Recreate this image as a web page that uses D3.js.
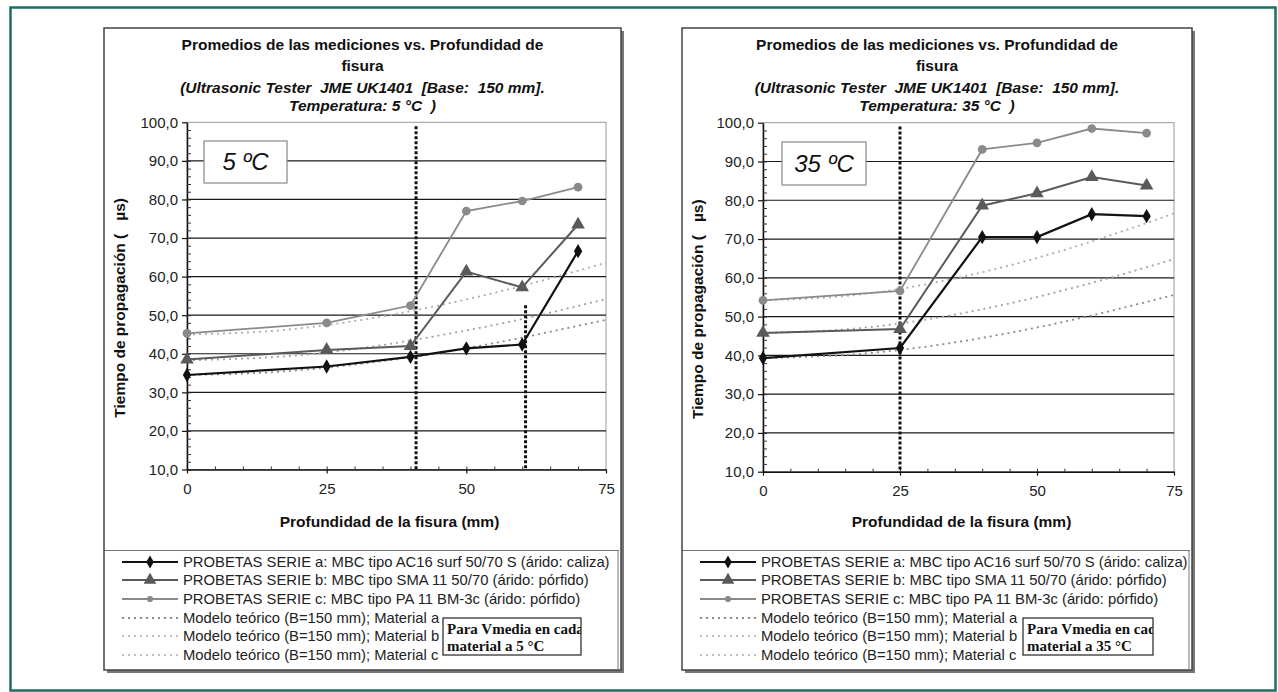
<!DOCTYPE html>
<html>
<head>
<meta charset="utf-8">
<script src="https://cdn.jsdelivr.net/npm/d3@7"></script>
<style>
  body { margin: 0; background: #fff; }
  svg { display: block; font-family: Arial, "Liberation Sans", sans-serif; }
</style>
</head>
<body>
<svg id="chart" width="1278" height="692"></svg>
<script>
// datos
const depth = [0, 25, 40, 50, 60, 70];              // profundidad de fisura (mm)
const serieA_5 = [34.5, 36.7, 39.2, 41.4, 42.4, 66.6];
const serieB_5 = [38.5, 41.0, 42.0, 61.3, 57.2, 73.5];
const serieC_5 = [45.3, 48.0, 52.5, 77.0, 79.6, 83.2];
const serieA_35 = [39.3, 41.9, 70.5, 70.5, 76.4, 75.9];
const serieB_35 = [45.8, 46.8, 78.6, 81.8, 86.0, 83.8];
const serieC_35 = [54.2, 56.6, 93.1, 94.8, 98.5, 97.3];

// modelo teorico (curvas punteadas)
const modelDepth = [0, 15, 30, 45, 60, 75];
const modelA_5 = [34.5, 35.2, 37.2, 40.2, 44.2, 48.8];
const modelB_5 = [38.3, 39.1, 41.2, 44.7, 49.0, 54.2];
const modelC_5 = [45.0, 45.9, 48.5, 52.5, 57.6, 63.6];
const modelA_35 = [39.3, 40.1, 42.3, 45.8, 50.3, 55.6];
const modelB_35 = [45.8, 46.7, 49.3, 53.4, 58.7, 64.8];
const modelC_35 = [54.2, 55.3, 58.4, 63.2, 69.4, 76.6];

// lineas verticales de limite [x, desde, hasta]
const limits_5 = [[41, 99, 10], [60.6, 52.6, 10]];
const limits_35 = [[25, 99, 10]];

const xTicks = [0, 25, 50, 75];
const yTicks = [10, 20, 30, 40, 50, 60, 70, 80, 90, 100];

const legendLabels = [
  "PROBETAS SERIE a: MBC tipo AC16 surf 50/70 S (árido: caliza)",
  "PROBETAS SERIE b: MBC tipo SMA 11 50/70 (árido: pórfido)",
  "PROBETAS SERIE c: MBC tipo PA 11 BM-3c (árido: pórfido)",
  "Modelo teórico (B=150 mm); Material a",
  "Modelo teórico (B=150 mm); Material b",
  "Modelo teórico (B=150 mm); Material c"
];

const svg = d3.select("#chart");

// marco exterior
svg.append("rect")
  .attr("x", 10.5).attr("y", 7.5)
  .attr("width", 1265).attr("height", 683)
  .attr("fill", "none")
  .attr("stroke", "#1b6e63")
  .attr("stroke-width", 2.5);

const fmt = d => d.toFixed(1).replace(".", ",");

function drawChart(cfg) {
  const g = svg.append("g");
  const b = cfg.box;

  // caja del grafico con sombra
  g.append("rect")
    .attr("x", b.x0 + 3).attr("y", b.y0 + 3)
    .attr("width", b.x1 - b.x0).attr("height", b.y1 - b.y0)
    .attr("fill", "#777");
  g.append("rect")
    .attr("x", b.x0).attr("y", b.y0)
    .attr("width", b.x1 - b.x0).attr("height", b.y1 - b.y0)
    .attr("fill", "white")
    .attr("stroke", "#444")
    .attr("stroke-width", 1.5);

  // titulo
  const cx = (b.x0 + b.x1) / 2;
  const title = [
    ["Promedios de las mediciones vs. Profundidad de", "normal", 50],
    ["fisura", "normal", 71],
    ["(Ultrasonic Tester  JME UK1401  [Base:  150 mm].", "italic", 93],
    ["Temperatura: " + cfg.temp + " °C  )", "italic", 111]
  ];
  g.selectAll(".title")
    .data(title)
    .enter()
    .append("text")
    .attr("x", cx)
    .attr("y", d => d[2])
    .attr("text-anchor", "middle")
    .style("font-size", "15.5px")
    .style("font-weight", "bold")
    .style("font-style", d => d[1])
    .style("white-space", "pre")
    .attr("fill", "#111")
    .text(d => d[0]);

  const p = cfg.plot;
  const x = d3.scaleLinear().domain([0, 75]).range([p.left, p.right]);
  const y = d3.scaleLinear().domain([10, 100]).range([p.bottom, p.top]);

  // borde del area de trazado
  g.append("rect")
    .attr("x", p.left).attr("y", p.top)
    .attr("width", p.right - p.left).attr("height", p.bottom - p.top)
    .attr("fill", "none")
    .attr("stroke", "#999")
    .attr("stroke-width", 1);

  // rejilla
  g.selectAll(".grid")
    .data(yTicks.filter(v => v > 10 && v < 100))
    .enter()
    .append("line")
    .attr("x1", p.left).attr("x2", p.right)
    .attr("y1", d => y(d)).attr("y2", d => y(d))
    .attr("stroke", "#1a1a1a")
    .attr("stroke-width", 1.2);

  // eje y
  const yAxis = g.append("g").attr("transform", `translate(${p.left},0)`);
  yAxis.call(d3.axisLeft(y).tickValues(yTicks).tickFormat(fmt).tickSize(5).tickSizeOuter(0));
  yAxis.select(".domain").attr("stroke", "#111").attr("stroke-width", 1.5);
  yAxis.selectAll(".tick line").attr("stroke", "#111").attr("stroke-width", 1.2);
  yAxis.selectAll(".tick text")
    .attr("x", -9)
    .style("font-size", "15px")
    .style("font-family", "Arial, 'Liberation Sans', sans-serif")
    .attr("fill", "#222");
  g.append("g")
    .attr("transform", `translate(${p.left},0)`)
    .call(d3.axisRight(y).tickValues(d3.range(10, 100, 2)).tickSize(4).tickFormat(""))
    .call(a => a.select(".domain").remove())
    .selectAll("line").attr("stroke", "#333");

  // eje x
  const xAxis = g.append("g").attr("transform", `translate(0,${p.bottom})`);
  xAxis.call(d3.axisBottom(x).tickValues(xTicks).tickSize(4).tickSizeOuter(0).tickPadding(10));
  xAxis.select(".domain").attr("stroke", "#111").attr("stroke-width", 1.5);
  xAxis.selectAll(".tick line").attr("stroke", "#111").attr("stroke-width", 1.2);
  xAxis.selectAll(".tick text")
    .style("font-size", "15px")
    .style("font-family", "Arial, 'Liberation Sans', sans-serif")
    .attr("fill", "#222");
  g.append("g")
    .attr("transform", `translate(0,${p.bottom})`)
    .call(d3.axisTop(x).tickValues(d3.range(5, 75, 5)).tickSize(3).tickFormat(""))
    .call(a => a.select(".domain").remove())
    .selectAll("line").attr("stroke", "#333");

  // titulos de ejes
  g.append("text")
    .attr("x", (p.left + p.right) / 2 - 7)
    .attr("y", 527)
    .attr("text-anchor", "middle")
    .style("font-size", "15.5px")
    .style("font-weight", "bold")
    .attr("fill", "#111")
    .text("Profundidad de la fisura (mm)");
  g.append("text")
    .attr("transform", `translate(${b.x0 + 21},${(p.top + p.bottom) / 2 + 12}) rotate(-90)`)
    .attr("text-anchor", "middle")
    .style("font-size", "15.5px")
    .style("font-weight", "bold")
    .style("white-space", "pre")
    .attr("fill", "#111")
    .text("Tiempo de propagación (   µs)");

  // recuadro de temperatura
  const tb = cfg.tempBox;
  g.append("rect")
    .attr("x", tb[0]).attr("y", tb[1])
    .attr("width", tb[2]).attr("height", tb[3])
    .attr("fill", "white")
    .attr("stroke", "#888")
    .attr("stroke-width", 1.2);
  g.append("text")
    .attr("x", tb[0] + tb[2] / 2)
    .attr("y", tb[1] + tb[3] / 2 + 8)
    .attr("text-anchor", "middle")
    .style("font-size", "24px")
    .style("font-style", "italic")
    .attr("fill", "#111")
    .text(cfg.temp + " ºC");

  // curvas del modelo
  const modelLine = d3.line()
    .x((d, i) => x(modelDepth[i]))
    .y(d => y(d))
    .curve(d3.curveNatural);
  const modelColors = ["#8a8a8a", "#a0a0a0", "#adadad"];
  g.selectAll(".model")
    .data(cfg.models)
    .enter()
    .append("path")
    .attr("d", d => modelLine(d))
    .attr("fill", "none")
    .attr("stroke", (d, i) => modelColors[i])
    .attr("stroke-width", 1.8)
    .attr("stroke-dasharray", "2,4");

  // lineas verticales punteadas
  g.selectAll(".limit")
    .data(cfg.limits)
    .enter()
    .append("line")
    .attr("x1", d => x(d[0])).attr("x2", d => x(d[0]))
    .attr("y1", d => y(d[1])).attr("y2", d => y(d[2]))
    .attr("stroke", "#111")
    .attr("stroke-width", 3)
    .attr("stroke-dasharray", "3,2");

  // series medidas
  const line = d3.line().x((d, i) => x(depth[i])).y(d => y(d));
  const styles = [
    { color: "#111", width: 2.2, symbol: d3.symbolDiamond, size: 60 },
    { color: "#5a5a5a", width: 2, symbol: d3.symbolTriangle, size: 80 },
    { color: "#8a8a8a", width: 1.8, symbol: d3.symbolCircle, size: 60 }
  ];
  cfg.series.slice().reverse().forEach((vals, ri) => {
    const s = styles[2 - ri];
    g.append("path")
      .attr("d", line(vals))
      .attr("fill", "none")
      .attr("stroke", s.color)
      .attr("stroke-width", s.width);
    g.selectAll(null)
      .data(vals)
      .enter()
      .append("path")
      .attr("d", d3.symbol().type(s.symbol).size(s.size))
      .attr("transform", (d, i) => `translate(${x(depth[i])},${y(d)})`)
      .attr("fill", s.color);
  });

  // leyenda
  const lg = g.append("g");
  const clipId = "clip" + cfg.temp;
  g.append("clipPath").attr("id", clipId)
    .append("rect")
    .attr("x", b.x0).attr("y", cfg.legendTop)
    .attr("width", b.x1 - b.x0 - 2).attr("height", b.y1 - cfg.legendTop);
  lg.attr("clip-path", `url(#${clipId})`);
  lg.append("line")
    .attr("x1", b.x0).attr("x2", b.x1)
    .attr("y1", cfg.legendTop).attr("y2", cfg.legendTop)
    .attr("stroke", "#444").attr("stroke-width", 1.5);
  lg.append("line")
    .attr("x1", b.x1 - 3).attr("x2", b.x1 - 3)
    .attr("y1", cfg.legendTop).attr("y2", b.y1)
    .attr("stroke", "#777").attr("stroke-width", 1);

  const rowY = [562, 580, 599, 618, 636, 655];
  const lx0 = b.x0 + 18, lx1 = b.x0 + 74;
  const legendStyles = [
    { color: "#111", width: 2.2, dash: null },
    { color: "#5a5a5a", width: 2, dash: null },
    { color: "#8a8a8a", width: 1.8, dash: null },
    { color: "#666", width: 1.4, dash: "2,4" },
    { color: "#aaa", width: 1.4, dash: "2,4" },
    { color: "#aaa", width: 1.4, dash: "2,4" }
  ];
  const rows = lg.selectAll(".row")
    .data(legendLabels)
    .enter()
    .append("g")
    .attr("transform", (d, i) => `translate(0,${rowY[i]})`);
  rows.append("line")
    .attr("x1", lx0).attr("x2", lx1)
    .attr("stroke", (d, i) => legendStyles[i].color)
    .attr("stroke-width", (d, i) => legendStyles[i].width)
    .attr("stroke-dasharray", (d, i) => legendStyles[i].dash);
  rows.filter((d, i) => i < 3)
    .append("path")
    .attr("d", (d, i) => d3.symbol().type(styles[i].symbol).size(i === 1 ? 70 : (i === 0 ? 50 : 30))())
    .attr("transform", `translate(${(lx0 + lx1) / 2},0)`)
    .attr("fill", (d, i) => styles[i].color);
  rows.append("text")
    .attr("x", lx1 + 5)
    .attr("y", 5)
    .style("font-size", "14.8px")
    .attr("fill", "#222")
    .text(d => d);

  // nota
  const nb = cfg.noteBox;
  const nClip = "nclip" + cfg.temp;
  g.append("clipPath").attr("id", nClip)
    .append("rect").attr("x", nb[0]).attr("y", nb[1]).attr("width", nb[2]).attr("height", nb[3]);
  g.append("rect")
    .attr("x", nb[0]).attr("y", nb[1])
    .attr("width", nb[2]).attr("height", nb[3])
    .attr("fill", "white")
    .attr("stroke", "#222")
    .attr("stroke-width", 1.2);
  g.append("g").attr("clip-path", `url(#${nClip})`)
    .selectAll("text")
    .data(["Para Vmedia en cada", "material a " + cfg.temp + " °C"])
    .enter()
    .append("text")
    .attr("x", nb[0] + 4)
    .attr("y", (d, i) => nb[1] + 16 + i * 17)
    .style("font-family", "'Liberation Serif', 'DejaVu Serif', serif")
    .style("font-weight", "bold")
    .style("font-size", "15px")
    .attr("fill", "#111")
    .text(d => d);
}

drawChart({
  temp: "5",
  box: { x0: 104, x1: 621, y0: 28, y1: 670 },
  plot: { left: 187, right: 606, top: 122.3, bottom: 469.5 },
  tempBox: [204, 141, 83, 42],
  series: [serieA_5, serieB_5, serieC_5],
  models: [modelA_5, modelB_5, modelC_5],
  limits: limits_5,
  legendTop: 550,
  noteBox: [443, 618, 138, 37]
});

drawChart({
  temp: "35",
  box: { x0: 682, x1: 1192, y0: 28, y1: 670 },
  plot: { left: 763, right: 1174, top: 122.7, bottom: 471.7 },
  tempBox: [782, 142, 84, 43],
  series: [serieA_35, serieB_35, serieC_35],
  models: [modelA_35, modelB_35, modelC_35],
  limits: limits_35,
  legendTop: 550,
  noteBox: [1023, 618, 130, 37]
});
</script>
</body>
</html>
